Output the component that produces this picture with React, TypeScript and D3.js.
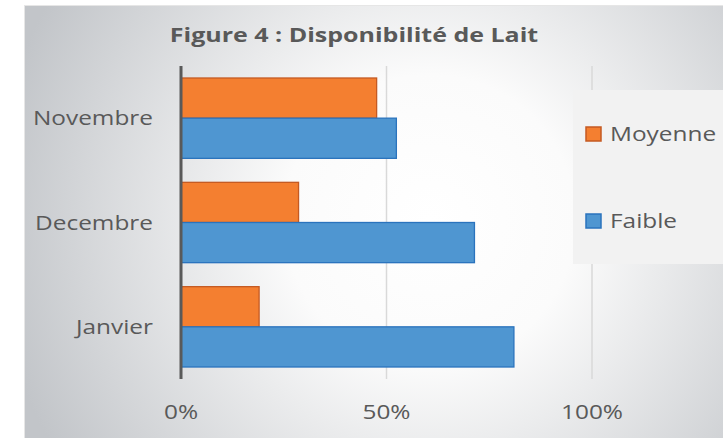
import React from 'react';
import * as d3 from 'd3';

// data (percent)
const categories = ['Novembre', 'Decembre', 'Janvier'];
const moyenne = [47.6, 28.6, 19.0];
const faible = [52.4, 71.4, 81.0];
const ticks = [0, 50, 100];

const W = 723;
const H = 438;
const FONT = "'Open Sans', 'DejaVu Sans', sans-serif";
const TEXT = '#595959';
const STRETCH = 1.22; // the source picture is stretched horizontally

// text widened horizontally around its anchor point
const SText = ({ x, y, anchor = 'start', size = 20, bold = false, sx = STRETCH, children }: any) => (
  <text
    transform={`translate(${x},${y}) scale(${sx},1)`}
    textAnchor={anchor}
    fontFamily={FONT}
    fontWeight={bold ? 'bold' : 'normal'}
    fontSize={size}
    fill={TEXT}
  >
    {children}
  </text>
);

const App = () => {
  const plotTop = 66;
  const plotBottom = 379;

  const x = d3.scaleLinear().domain([0, 100]).range([181, 592]);

  const y = d3
    .scaleBand()
    .domain(categories)
    .range([plotTop, plotBottom])
    .paddingInner(0.23)
    .paddingOuter(0.115);

  const inner = d3
    .scaleBand()
    .domain(['Moyenne', 'Faible'])
    .range([0, y.bandwidth()]);

  const series = [
    { name: 'Moyenne', values: moyenne, fill: '#f47f30', stroke: '#c55a22' },
    { name: 'Faible', values: faible, fill: '#4f96d1', stroke: '#2a73bd' },
  ];

  return (
    <svg
      width={W}
      height={H}
      style={{ position: 'absolute', left: 0, top: 0, background: '#fff' }}
    >
      <defs>
        <radialGradient id="bg" cx="430" cy="220" r="440" gradientUnits="userSpaceOnUse">
          <stop offset="0" stopColor="#ffffff" />
          <stop offset="0.33" stopColor="#fbfbfb" />
          <stop offset="1" stopColor="#c2c5c9" />
        </radialGradient>
      </defs>

      {/* chart area */}
      <rect x={24} y={5} width={W - 24} height={H - 5} fill="url(#bg)" />
      <line x1={24} x2={W} y1={5.5} y2={5.5} stroke="#e6e6e6" />
      <line x1={24.5} x2={24.5} y1={5} y2={H} stroke="#e6e6e6" />

      <SText x={354} y={42} anchor="middle" size={20} bold sx={1.25}>
        Figure 4 : Disponibilité de Lait
      </SText>

      {/* gridlines */}
      {ticks.slice(1).map((t) => (
        <line
          key={t}
          x1={x(t)}
          x2={x(t)}
          y1={plotTop}
          y2={plotBottom}
          stroke="#d9d9d9"
          strokeWidth={1.5}
        />
      ))}

      {/* bars */}
      {series.map((s) =>
        categories.map((c, i) => (
          <rect
            key={s.name + c}
            x={x(0)}
            y={(y(c) || 0) + (inner(s.name) || 0)}
            width={x(s.values[i]) - x(0)}
            height={inner.bandwidth()}
            fill={s.fill}
            stroke={s.stroke}
            strokeWidth={1.3}
          />
        ))
      )}

      {/* category axis */}
      <line x1={181} x2={181} y1={plotTop} y2={plotBottom} stroke="#595959" strokeWidth={3} />
      {categories.map((c) => (
        <SText key={c} x={153} y={(y(c) || 0) + y.bandwidth() / 2 + 7} anchor="end">
          {c}
        </SText>
      ))}

      {/* value axis labels */}
      {ticks.map((t) => (
        <SText key={t} x={x(t)} y={419} anchor="middle">
          {t}%
        </SText>
      ))}

      {/* legend */}
      <rect x={573} y={90} width={W - 573} height={174} fill="#f2f2f2" />
      {series.map((s, i) => (
        <g key={s.name} transform={`translate(586, ${127 + i * 87})`}>
          <rect width={15} height={14} fill={s.fill} stroke={s.stroke} strokeWidth={1.5} />
          <SText x={24} y={14}>
            {s.name}
          </SText>
        </g>
      ))}
    </svg>
  );
};

export default App;
